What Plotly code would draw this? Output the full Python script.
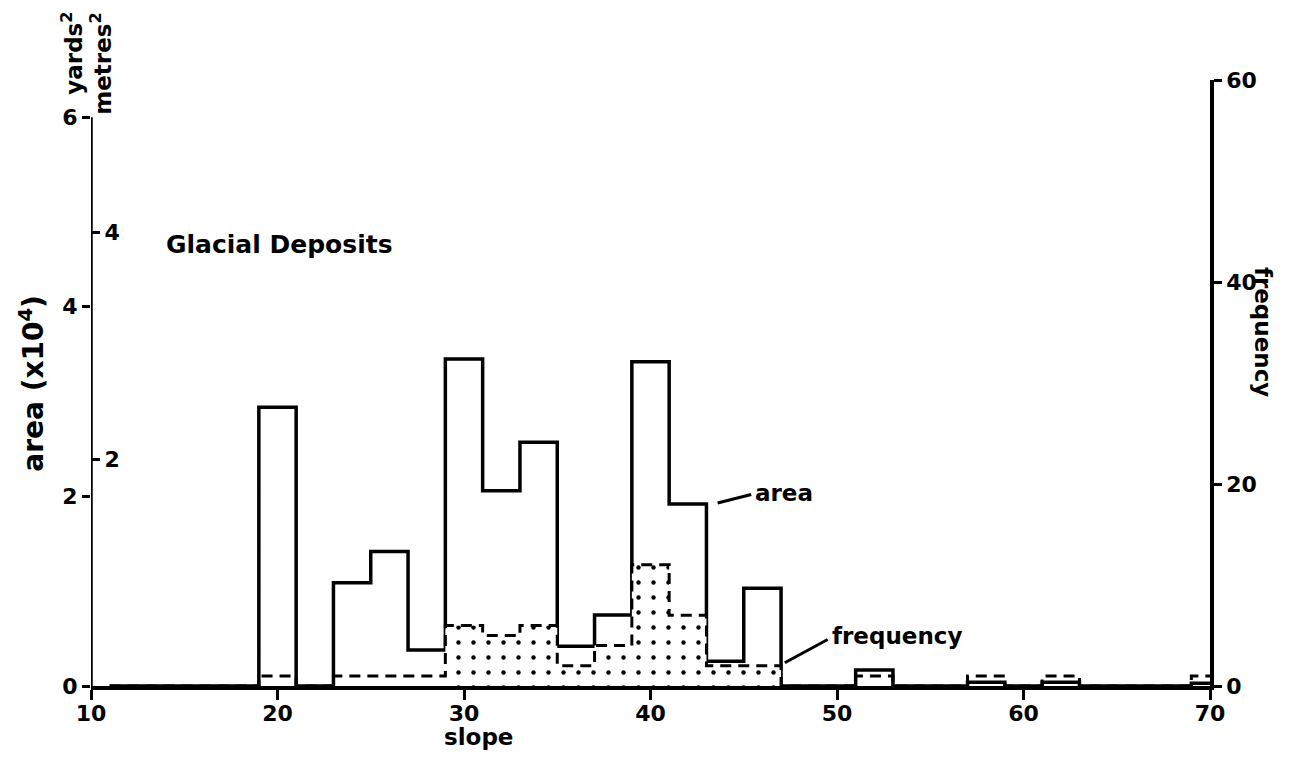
import plotly.graph_objects as go

# Slope classes (degrees): lower edge of each 2-degree bin
slope_lo = [11, 13, 15, 17, 19, 21, 23, 25, 27, 29, 31, 33, 35, 37, 39, 41, 43, 45,
            47, 49, 51, 53, 55, 57, 59, 61, 63, 65, 67, 69]
# Area in each slope class (x10^4 square yards)
area = [0, 0, 0, 0, 2.94, 0, 1.09, 1.42, 0.38, 3.45, 2.06, 2.57, 0.42, 0.75, 3.42,
        1.92, 0.26, 1.03, 0, 0, 0.17, 0, 0, 0.04, 0, 0.04, 0, 0, 0, 0.03]
# Number of slopes counted in each class
frequency = [0, 0, 0, 0, 1, 0, 1, 1, 1, 6, 5, 6, 2, 4, 12, 7, 2, 2,
             0, 0, 1, 0, 0, 1, 0, 1, 0, 0, 0, 1]
BIN = 2

# Stippled part of the frequency histogram
stipple_from, stipple_to = 29, 47

YD2_PER_M2 = 1.196
area_ticks = [0, 2, 4, 6]
metre_ticks = [2, 4]
freq_ticks = [0, 20, 40, 60]
slope_ticks = [10, 20, 30, 40, 50, 60, 70]

AREA_TOP = 6.392
FREQ_TOP = 60

FONT = "DejaVu Sans"
INK = "black"


def step_xy(lo, vals):
    xs = list(lo) + [lo[-1] + BIN]
    ys = list(vals) + [vals[-1]]
    return xs, ys


ax_x, ax_y = step_xy(slope_lo, area)
fq_x, fq_y = step_xy(slope_lo, frequency)

st_lo = [s for s in slope_lo if stipple_from <= s < stipple_to]
st_val = [f for s, f in zip(slope_lo, frequency) if stipple_from <= s < stipple_to]
st_x, st_y = step_xy(st_lo, st_val)

fig = go.Figure()

# stipple under the frequency line
fig.add_trace(go.Scatter(
    x=st_x, y=st_y, yaxis="y2", mode="lines", line=dict(width=0, shape="hv"),
    fill="tozeroy", fillcolor="white",
    fillpattern=dict(shape=".", size=15, solidity=0.07, fgcolor=INK,
                     bgcolor="white", fillmode="replace"),
    hoverinfo="skip", showlegend=False))

# frequency histogram (dashed)
fig.add_trace(go.Scatter(
    x=fq_x, y=fq_y, yaxis="y2", mode="lines",
    line=dict(color=INK, width=3, dash="11px,7px", shape="hv"),
    showlegend=False))

# area histogram (solid)
fig.add_trace(go.Scatter(
    x=ax_x, y=ax_y, mode="lines",
    line=dict(color=INK, width=3.5, shape="hv"),
    showlegend=False))

# left axis line (stops at 6)
fig.add_shape(type="line", xref="x", yref="y", x0=10, x1=10, y0=0, y1=6,
              line=dict(color=INK, width=3.5))

# leader lines for the two series labels
fig.add_shape(type="line", xref="x", yref="y", x0=43.6, x1=45.4, y0=1.93, y1=2.02,
              line=dict(color=INK, width=3))
fig.add_shape(type="line", xref="x", yref="y2", x0=47.2, x1=49.5, y0=2.3, y1=4.6,
              line=dict(color=INK, width=3))

tick_font = dict(family=FONT, size=22, color=INK, weight="bold")
text_font = dict(family=FONT, size=23, color=INK, weight="bold")

fig.update_layout(
    width=1300, height=760,
    margin=dict(l=91, r=90, t=80, b=74),
    paper_bgcolor="white", plot_bgcolor="white",
    font=text_font,
    xaxis=dict(range=[10, 70], tickvals=slope_ticks, ticks="outside", ticklen=10,
               tickwidth=3, tickcolor=INK, showline=True, linecolor=INK, linewidth=3.5,
               showgrid=False, zeroline=False, tickfont=tick_font,
               ticklabelstandoff=-5),
    yaxis=dict(range=[0, AREA_TOP], tickvals=area_ticks, ticks="outside", ticklen=8,
               tickwidth=3, tickcolor=INK, showline=False, showgrid=False,
               zeroline=False, tickfont=tick_font),
    yaxis2=dict(range=[0, FREQ_TOP], overlaying="y", side="right", tickvals=freq_ticks,
                ticks="outside", ticklen=8, tickwidth=3, tickcolor=INK, showline=True,
                linecolor=INK, linewidth=3.5, showgrid=False, zeroline=False,
                tickfont=tick_font),
    yaxis3=dict(range=[0, AREA_TOP / YD2_PER_M2], overlaying="y", anchor="free",
                position=0, side="right", tickvals=metre_ticks, ticks="outside",
                ticklen=8, tickwidth=3, tickcolor=INK, showline=False, showgrid=False,
                zeroline=False, tickfont=tick_font),
)

# anchor the metre axis ticks with an invisible trace
fig.add_trace(go.Scatter(x=[None], y=[None], yaxis="y3", showlegend=False))

annotations = [
    dict(text="Glacial Deposits", xref="x", yref="y", x=13.9, y=4.66,
         xanchor="left", yanchor="middle", font=dict(family=FONT, size=25, color=INK,
                                                     weight="bold")),
    dict(text="area", xref="x", yref="y", x=45.5, y=2.04, xanchor="left",
         yanchor="middle"),
    dict(text="frequency", xref="x", yref="y2", x=49.6, y=5.0, xanchor="left",
         yanchor="middle"),
    dict(text="slope", xref="paper", yref="paper", x=0.346, y=-0.084,
         xanchor="center", yanchor="middle", font=dict(family=FONT, size=23, color=INK,
                                                       weight="bold")),
    dict(text="area (x10<sup>4</sup>)", xref="paper", yref="paper", x=-0.053, y=0.5,
         textangle=-90, xanchor="center", yanchor="middle",
         font=dict(family=FONT, size=28, color=INK, weight="bold")),
    dict(text="yards<sup>2</sup>", xref="paper", yref="paper", x=-0.017, y=1.045,
         textangle=-90, xanchor="center", yanchor="middle"),
    dict(text="metres<sup>2</sup>", xref="paper", yref="paper", x=0.009, y=1.027,
         textangle=-90, xanchor="center", yanchor="middle"),
    dict(text="frequency", xref="paper", yref="paper", x=1.047, y=0.585,
         textangle=90, xanchor="center", yanchor="middle"),
]
for a in annotations:
    a.setdefault("showarrow", False)
    fig.add_annotation(**a)

fig.write_html("out.html")
